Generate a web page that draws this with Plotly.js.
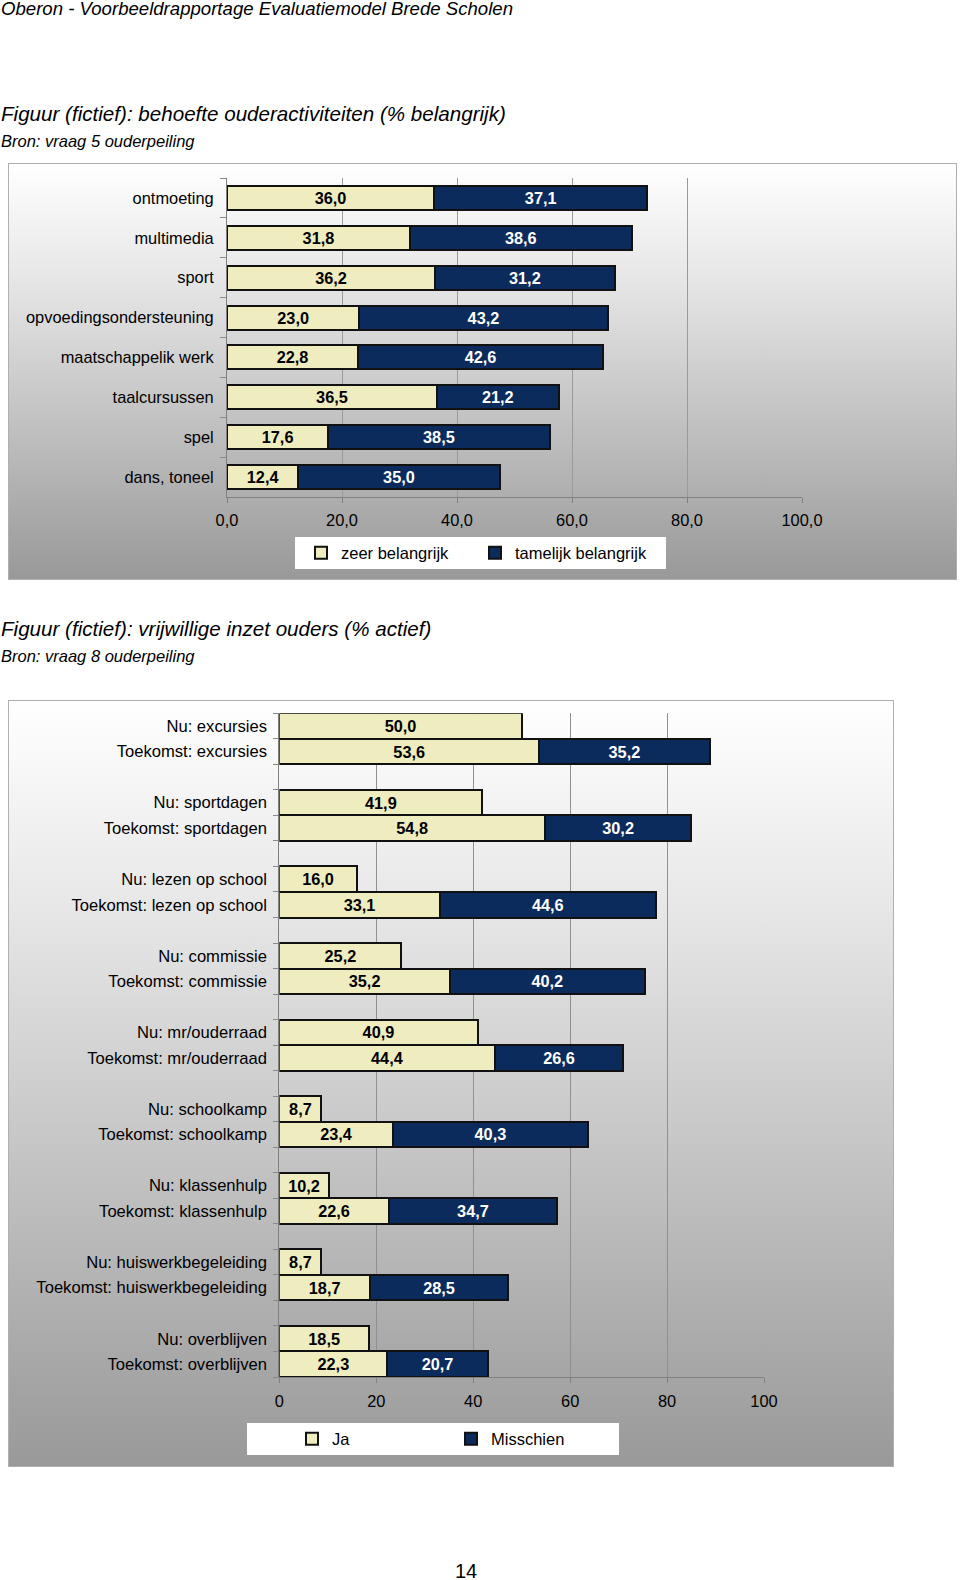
<!DOCTYPE html>
<html>
<head>
<meta charset="utf-8">
<script src="https://cdn.plot.ly/plotly-3.0.1.min.js"></script>
<style>
  html, body { margin:0; padding:0; background:#fff; }
  body { width:960px; height:1580px; position:relative; overflow:hidden; font-family:"Liberation Sans", Arial, sans-serif; }
  .txt { position:absolute; white-space:nowrap; line-height:1; font-style:italic; color:#000; }
  .box { position:absolute; box-sizing:border-box; border:1px solid #b0b0b0;
         background:linear-gradient(to bottom, #ffffff 0%, #e6e6e6 28%, #999999 100%); }
  #plot { position:absolute; left:0; top:0; width:960px; height:1580px; }
</style>
</head>
<body>
<div class="txt" style="left:1px; top:-0.5px; font-size:18.6px;">Oberon - Voorbeeldrapportage Evaluatiemodel Brede Scholen</div>
<div class="txt" style="left:1px; top:103.6px; font-size:20.6px;">Figuur (fictief): behoefte ouderactiviteiten (% belangrijk)</div>
<div class="txt" style="left:1px; top:133.3px; font-size:16.5px;">Bron: vraag 5 ouderpeiling</div>
<div class="box" style="left:8px; top:163px; width:949px; height:417px;"></div>
<div class="txt" style="left:1px; top:619.3px; font-size:20.6px;">Figuur (fictief): vrijwillige inzet ouders (% actief)</div>
<div class="txt" style="left:1px; top:648.3px; font-size:16.5px;">Bron: vraag 8 ouderpeiling</div>
<div class="box" style="left:8px; top:700px; width:886px; height:767px;"></div>
<div class="txt" style="left:455px; top:1561px; font-size:20px; font-style:normal;">14</div>
<div id="plot"></div>
<script>
// ---- Chart 1 data ----
const activities1 = ["ontmoeting","multimedia","sport","opvoedingsondersteuning","maatschappelik werk","taalcursussen","spel","dans, toneel"];
const zeerBelangrijk = [36.0, 31.8, 36.2, 23.0, 22.8, 36.5, 17.6, 12.4];
const tamelijkBelangrijk = [37.1, 38.6, 31.2, 43.2, 42.6, 21.2, 38.5, 35.0];
const xTicks1 = [0, 20, 40, 60, 80, 100];

// ---- Chart 2 data ----
const activities2 = ["excursies","sportdagen","lezen op school","commissie","mr/ouderraad","schoolkamp","klassenhulp","huiswerkbegeleiding","overblijven"];
const nuJa = [50.0, 41.9, 16.0, 25.2, 40.9, 8.7, 10.2, 8.7, 18.5];
const toekomstJa = [53.6, 54.8, 33.1, 35.2, 44.4, 23.4, 22.6, 18.7, 22.3];
const toekomstMisschien = [35.2, 30.2, 44.6, 40.2, 26.6, 40.3, 34.7, 28.5, 20.7];
const xTicks2 = [0, 20, 40, 60, 80, 100];

const W = 960, H = 1580;
const px = v => v / W;
const py = v => (H - v) / H;

const LIGHT = "#efedc0";
const DARK = "#0b2b5c";
const FONT = "Liberation Sans, Arial, sans-serif";

// chart 2 slot positions: Nu, Toekomst, then an empty slot between groups
const nuPos = activities2.map((a, i) => i * 3);
const tkPos = activities2.map((a, i) => i * 3 + 1);
const jaY = [], jaX = [];
activities2.forEach((a, i) => { jaY.push(nuPos[i], tkPos[i]); jaX.push(nuJa[i], toekomstJa[i]); });
const tickVals2 = [], tickText2 = [];
activities2.forEach((a, i) => {
  tickVals2.push(nuPos[i], tkPos[i]);
  tickText2.push("Nu: " + a, "Toekomst: " + a);
});

const barLine = { color: "#111", width: 2 };
const commonBar = {
  type: "bar", orientation: "h", textposition: "inside", insidetextanchor: "middle",
  textangle: 0, hoverinfo: "skip", cliponaxis: false
};
const darkText = { family: FONT, size: 16.3, color: "#000", weight: "bold" };
const lightText = { family: FONT, size: 16.3, color: "#fff", weight: "bold" };

const traces = [
  Object.assign({}, commonBar, {
    name: "zeer belangrijk", x: zeerBelangrijk, y: activities1, xaxis: "x", yaxis: "y",
    marker: { color: LIGHT, line: barLine }, texttemplate: "%{x:.1f}", textfont: darkText, legend: "legend"
  }),
  Object.assign({}, commonBar, {
    name: "tamelijk belangrijk", x: tamelijkBelangrijk, y: activities1, xaxis: "x", yaxis: "y",
    marker: { color: DARK, line: barLine }, texttemplate: "%{x:.1f}", textfont: lightText, legend: "legend"
  }),
  Object.assign({}, commonBar, {
    name: "Ja", x: jaX, y: jaY, width: 1, xaxis: "x2", yaxis: "y2",
    marker: { color: LIGHT, line: barLine }, texttemplate: "%{x:.1f}", textfont: darkText, legend: "legend2"
  }),
  Object.assign({}, commonBar, {
    name: "Misschien", x: toekomstMisschien, y: tkPos, width: 1, xaxis: "x2", yaxis: "y2",
    marker: { color: DARK, line: barLine }, texttemplate: "%{x:.1f}", textfont: lightText, legend: "legend2"
  })
];

const tickFont = { family: FONT, size: 16.4, color: "#000" };

const layout = {
  width: W, height: H, autosize: false,
  margin: { l: 0, r: 0, t: 0, b: 0, pad: 0 },
  paper_bgcolor: "rgba(0,0,0,0)", plot_bgcolor: "rgba(0,0,0,0)",
  separators: ",.",
  barmode: "stack",
  font: { family: FONT, size: 16, color: "#000" },
  uniformtext: { mode: "show", minsize: 16.3 },
  xaxis: {
    domain: [px(227), px(802)], anchor: "y", range: [0, 100], tickvals: xTicks1, tickformat: ".1f",
    showgrid: true, gridcolor: "#9a9a9a", gridwidth: 1, zeroline: false,
    showline: true, linecolor: "#808080", linewidth: 1,
    ticks: "outside", ticklen: 5, tickcolor: "#808080", ticklabelstandoff: 3,
    tickfont: tickFont, fixedrange: true
  },
  yaxis: {
    domain: [py(497), py(178)], anchor: "x", type: "category", autorange: "reversed",
    categoryorder: "array", categoryarray: activities1,
    tickson: "boundaries", ticks: "outside", ticklen: 6, tickcolor: "#8a8a8a",
    showline: true, linecolor: "#808080", linewidth: 1, showgrid: false, zeroline: false,
    ticklabelstandoff: 9, tickfont: tickFont, fixedrange: true
  },
  bargap: 0.4,
  xaxis2: {
    domain: [px(279.3), px(764)], anchor: "y2", range: [0, 100], tickvals: xTicks2, tickformat: "d",
    showgrid: true, gridcolor: "#909090", gridwidth: 1, zeroline: false,
    showline: true, linecolor: "#808080", linewidth: 1,
    ticks: "outside", ticklen: 5, tickcolor: "#808080", ticklabelstandoff: 4,
    tickfont: tickFont, fixedrange: true
  },
  yaxis2: {
    domain: [py(1377), py(713.3)], anchor: "x2", range: [activities2.length * 3 - 1.5, -0.5],
    tickmode: "array", tickvals: tickVals2, ticktext: tickText2, ticks: "",
    minor: { tickmode: "linear", tick0: 0.5, dtick: 1, ticks: "outside", ticklen: 5, tickcolor: "#8a8a8a", showgrid: false },
    showline: true, linecolor: "#808080", linewidth: 1, showgrid: false, zeroline: false,
    ticklabelstandoff: 8, tickfont: { family: FONT, size: 16.6, color: "#000" }, fixedrange: true
  },
  legend: {
    orientation: "h", x: px(301), xanchor: "left", y: py(553), yanchor: "middle",
    bgcolor: "rgba(0,0,0,0)", borderwidth: 0, font: { family: FONT, size: 16.5, color: "#000" },
    entrywidth: 129, entrywidthmode: "pixels", traceorder: "normal", itemclick: false, itemdoubleclick: false
  },
  legend2: {
    orientation: "h", x: px(292), xanchor: "left", y: py(1439), yanchor: "middle",
    bgcolor: "rgba(0,0,0,0)", borderwidth: 0, font: { family: FONT, size: 16.5, color: "#000" },
    entrywidth: 114, entrywidthmode: "pixels", traceorder: "normal", itemclick: false, itemdoubleclick: false
  },
  shapes: [
    { type: "rect", xref: "paper", yref: "paper", x0: px(295), x1: px(666), y0: py(569), y1: py(537),
      fillcolor: "#ffffff", line: { width: 0 }, layer: "below" },
    { type: "rect", xref: "paper", yref: "paper", x0: px(247), x1: px(619), y0: py(1455), y1: py(1423),
      fillcolor: "#ffffff", line: { width: 0 }, layer: "below" }
  ]
};

Plotly.newPlot("plot", traces, layout, { displayModeBar: false, staticPlot: true });
</script>
</body>
</html>
